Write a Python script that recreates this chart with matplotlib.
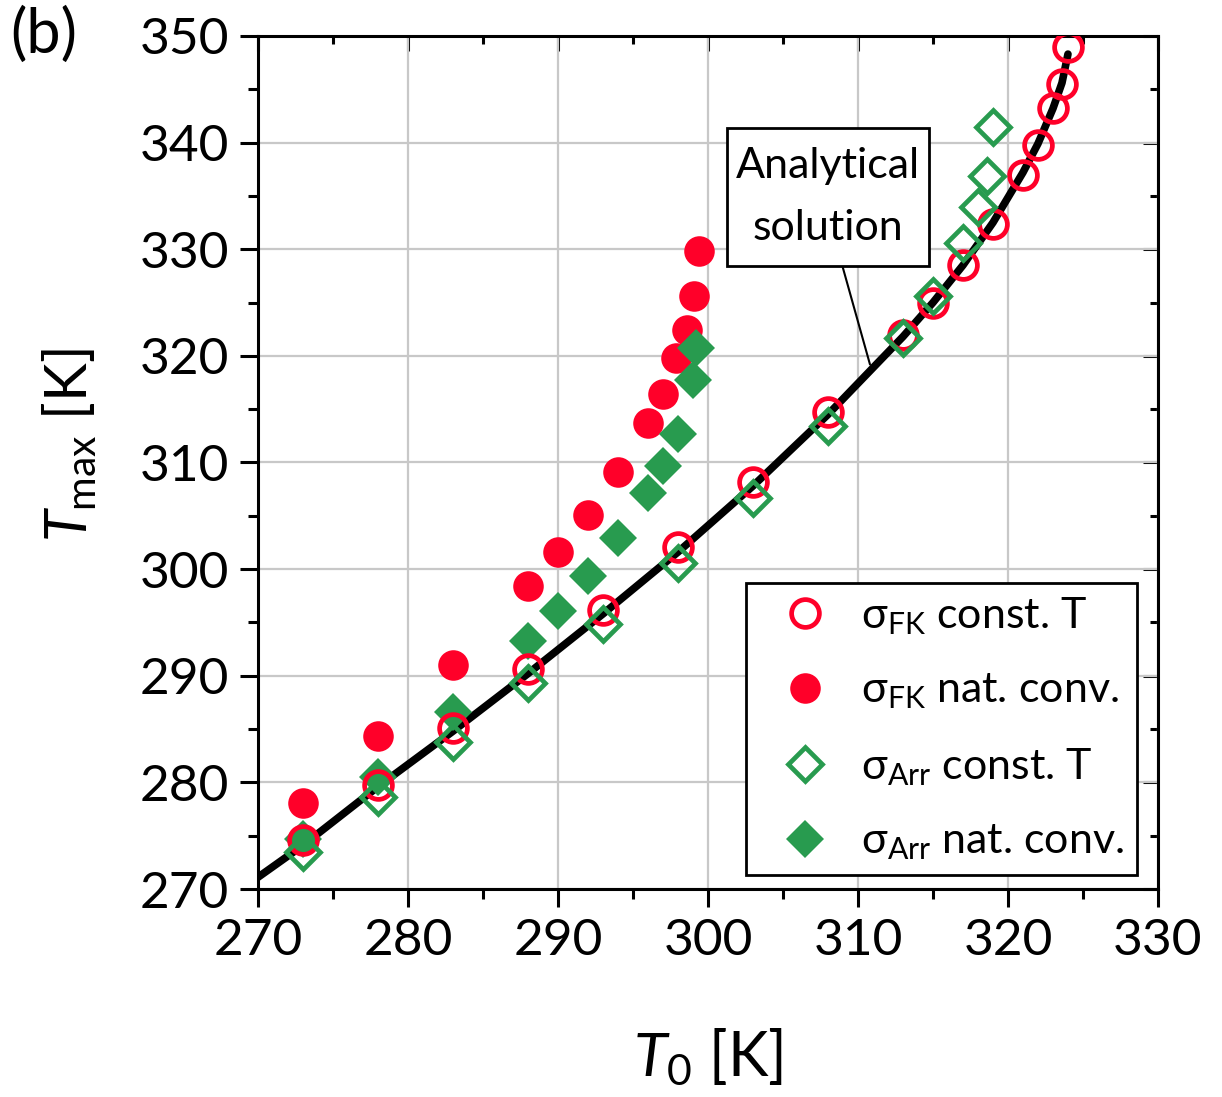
import matplotlib
matplotlib.use("Agg")
import matplotlib.pyplot as plt
from matplotlib.path import Path
from matplotlib.ticker import MultipleLocator

plt.rcParams['font.family'] = ['Lato', 'DejaVu Sans']
plt.rcParams['mathtext.fontset'] = 'custom'
plt.rcParams['mathtext.rm'] = 'Lato'
plt.rcParams['mathtext.it'] = 'Lato:italic'

# ── data ───────────────────────────────────────────────────
# sigma_FK, constant T boundary (hollow red circles)
fk_const_x = [273, 278, 283, 288, 293, 298, 303, 308, 313, 315, 317, 319, 321, 322, 323, 323.6, 324]
fk_const_y = [274.6, 279.8, 285.1, 290.6, 296.2, 302.1, 308.2, 314.7, 322.0, 325.0, 328.5, 332.4, 337.0, 339.8, 343.2, 345.5, 349.0]

# sigma_FK, natural convection (filled red circles)
fk_nat_x = [273, 278, 283, 288, 290, 292, 294, 296, 297, 297.9, 298.6, 299.1, 299.4]
fk_nat_y = [278.1, 284.35, 291.0, 298.4, 301.6, 305.1, 309.1, 313.7, 316.4, 319.8, 322.4, 325.6, 329.8]

# sigma_Arr, constant T boundary (hollow green diamonds)
arr_const_x = [273, 278, 283, 288, 293, 298, 303, 308, 313, 315, 317, 318, 318.6, 319]
arr_const_y = [273.5, 278.6, 283.8, 289.3, 294.9, 300.6, 306.7, 313.4, 321.7, 325.6, 330.6, 334.0, 336.9, 341.5]

# sigma_Arr, natural convection (filled green diamonds)
arr_nat_x = [273, 278, 283, 288, 290, 292, 294, 296, 297, 298, 299, 299.2]
arr_nat_y = [274.7, 280.5, 286.6, 293.3, 296.1, 299.4, 302.9, 307.1, 309.7, 312.7, 317.7, 320.7]

# analytical solution (black curve)
ana_x = [270, 273, 278, 283, 288, 293, 298, 303, 308, 313, 315, 317, 319, 321, 322, 323, 323.6, 324]
ana_y = [271.1, 274.1, 279.6, 284.8, 290.2, 295.8, 301.6, 307.8, 314.5, 321.8, 325.0, 328.5, 332.5, 337.2, 339.9, 343.2, 345.6, 348.3]

RED = "#ff0029"
GREEN = "#289b4f"


def label_box(x0, y0, width, height, mutation_size):
    # rectangle with more padding above/below than left/right
    px, py = 0.21 * mutation_size, 0.44 * mutation_size
    x0, y0 = x0 - px, y0 - py
    x1, y1 = x0 + width + 2 * px, y0 + height + 2 * py
    return Path([(x0, y0), (x1, y0), (x1, y1), (x0, y1), (x0, y0)], closed=True)


fig = plt.figure(figsize=(12.22, 10.97), dpi=100)
ax = fig.add_axes([0.2111, 0.1896, 0.7365, 0.7776])

ax.grid(True, which="major", color="#c8c8c8", linewidth=1.6, zorder=0)
ax.set_axisbelow(True)

ax.plot(ana_x, ana_y, color="black", lw=5.5, zorder=2, solid_capstyle="round")

ax.plot(fk_const_x, fk_const_y, ls="none", marker="o", ms=20, mfc="none",
        mec=RED, mew=3.4, zorder=4, label=r"σ$_{\mathregular{FK}}$ const. T")
ax.plot(fk_nat_x, fk_nat_y, ls="none", marker="o", ms=22, mfc=RED,
        mec=RED, mew=0, zorder=3, label=r"σ$_{\mathregular{FK}}$ nat. conv.")
ax.plot(arr_const_x, arr_const_y, ls="none", marker="D", ms=17, mfc="none",
        mec=GREEN, mew=3.4, zorder=5, label=r"σ$_{\mathregular{Arr}}$ const. T")
ax.plot(arr_nat_x, arr_nat_y, ls="none", marker="D", ms=19.5, mfc=GREEN,
        mec=GREEN, mew=0, zorder=3, label=r"σ$_{\mathregular{Arr}}$ nat. conv.")

ax.set_xlim(270, 330)
ax.set_ylim(270, 350)
ax.xaxis.set_major_locator(MultipleLocator(10))
ax.xaxis.set_minor_locator(MultipleLocator(5))
ax.yaxis.set_major_locator(MultipleLocator(10))
ax.yaxis.set_minor_locator(MultipleLocator(5))

for s in ax.spines.values():
    s.set_linewidth(2.2)
ax.tick_params(which="both", direction="out", width=2.2, labelsize=37)
ax.tick_params(which="major", length=13, pad=8)
ax.tick_params(which="minor", length=7)
# top / right ticks point inward
ax2 = ax.secondary_xaxis("top")
ax2.set_xticks(range(270, 331, 10))
ax2.xaxis.set_minor_locator(MultipleLocator(5))
ax2.tick_params(which="both", direction="in", width=2.2, labeltop=False)
ax2.tick_params(which="major", length=11)
ax2.tick_params(which="minor", length=6)
ay2 = ax.secondary_yaxis("right")
ay2.set_yticks(range(270, 351, 10))
ay2.yaxis.set_minor_locator(MultipleLocator(5))
ay2.tick_params(which="both", direction="in", width=2.2, labelright=False)
ay2.tick_params(which="major", length=11)
ay2.tick_params(which="minor", length=6)

ax.set_xlabel(r"$T_0$ [K]", fontsize=44, labelpad=45)
ax.set_ylabel(r"$T_{\mathregular{max}}$ [K]", fontsize=42, labelpad=30, y=0.52)

ax.annotate("Analytical\nsolution", xy=(310.8, 319.2), xytext=(308, 334.9),
            ha="center", va="center", fontsize=31, linespacing=1.8,
            bbox=dict(boxstyle=label_box, fc="white", ec="black", lw=2),
            arrowprops=dict(arrowstyle="-", color="black", lw=1.5,
                            relpos=(0.55, 0.0), shrinkA=0, shrinkB=0),
            zorder=6)

leg = ax.legend(loc="lower right", bbox_to_anchor=(0.977, 0.016),
                borderaxespad=0, fontsize=31, frameon=True, fancybox=False,
                edgecolor="black", framealpha=1, labelspacing=0.81,
                handletextpad=0.23, borderpad=0.3, handlelength=2.14)
leg.get_frame().set_linewidth(2)
leg.set_zorder(7)

fig.text(0.008, 0.968, "(b)", fontsize=44, va="center", ha="left")

fig.savefig("out.png", dpi=100)
